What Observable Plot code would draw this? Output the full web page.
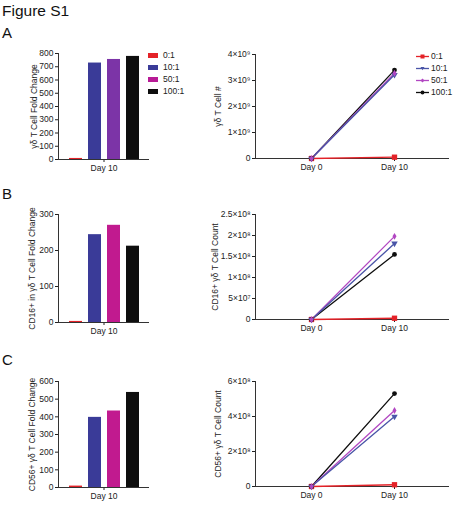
<!DOCTYPE html>
<html><head><meta charset="utf-8">
<script src="https://cdn.jsdelivr.net/npm/d3@7"></script>
<script src="https://cdn.jsdelivr.net/npm/@observablehq/plot@0.6"></script>
<style>
body{margin:0;background:#fff;font-family:"Liberation Sans",Arial,sans-serif;}
#fig{position:relative;width:474px;height:506px;overflow:hidden;background:#fff;}
.abs{position:absolute;}
.hdr{position:absolute;color:#111;line-height:1;}
.leg{position:absolute;font-size:8.5px;color:#222;display:flex;align-items:center;}
</style></head><body><div id="fig"></div>
<script>
// ---- data ----
const ratios = ["0:1", "10:1", "50:1", "100:1"];
const days = ["Day 0", "Day 10"];
const barDay = ["Day 10"];
const barA = [8, 728, 755, 778];
const barB = [3, 244, 270, 212];
const barC = [8, 397, 433, 538];
const lineA_day0 = [0, 0, 0, 0];
const lineA_day10 = [5e7, 3.22e9, 3.28e9, 3.4e9];
const lineB_day0 = [0, 0, 0, 0];
const lineB_day10 = [3e6, 1.81e8, 1.98e8, 1.55e8];
const lineC_day0 = [0, 0, 0, 0];
const lineC_day10 = [1e7, 4.0e8, 4.34e8, 5.31e8];
const titlesBar = ["γδ T Cell Fold Change", "CD16+ in γδ T Cell Fold Change", "CD56+ γδ T Cell Fold Change"];
const titlesLine = ["γδ T Cell #", "CD16+ γδ T Cell Count", "CD56+ γδ T Cell Count"];

const colorsBarA = ["#e42228", "#3a3b98", "#7c34a7", "#0e0e0e"];
const colorsBarBC = ["#e42228", "#3a3b98", "#c11a8f", "#0e0e0e"];
const colorsLegendBar = ["#e42228", "#3a3b98", "#b81b96", "#0e0e0e"];
const colorsLine = ["#e42228", "#4a55a8", "#b247c2", "#0e0e0e"];
const symbols = ["square", "triangle", "diamond", "circle"];
const symbolSizes = [3.0, 2.4, 2.1, 2.4];

const fig = document.getElementById("fig");
const font = "'Liberation Sans', Arial, sans-serif";
const sup = {"0":"⁰","1":"¹","2":"²","3":"³","4":"⁴","5":"⁵","6":"⁶","7":"⁷","8":"⁸","9":"⁹"};
function sci(v) {
  if (v === 0) return "0";
  const e = Math.floor(Math.log10(v) + 1e-9);
  const m = +(v / 10 ** e).toFixed(2);
  return m + "×10" + String(e).split("").map(c => sup[c]).join("");
}
function place(el, left, top) {
  el.classList.add("abs");
  el.style.left = left + "px";
  el.style.top = top + "px";
  fig.appendChild(el);
}
function hdr(text, left, top, size) {
  const d = document.createElement("div");
  d.className = "hdr";
  d.textContent = text;
  d.style.left = left + "px"; d.style.top = top + "px"; d.style.fontSize = size + "px";
  fig.appendChild(d);
}

const style = {fontFamily: font, fontSize: "8.5px", color: "#222", background: "transparent", overflow: "visible"};

function barPanel(vals, cols, yMax, step, label, frameTop, frameBottom, labelOffset) {
  const data = ratios.map((r, i) => ({day: barDay[0], ratio: r, value: vals[i]}));
  const mt = 10, mb = 22;
  const p = Plot.plot({
    width: 152, height: frameBottom - frameTop + mt + mb,
    marginLeft: 58, marginRight: 3, marginTop: mt, marginBottom: mb,
    style,
    fx: {domain: barDay, padding: 0, label: null},
    x: {domain: ratios, paddingInner: 0.33, paddingOuter: 0.52, axis: null},
    y: {domain: [0, yMax], ticks: d3.range(0, yMax + 1, step), tickSize: 3, tickPadding: 2,
        label, labelAnchor: "center", labelArrow: "none", labelOffset},
    color: {domain: ratios, range: cols},
    marks: [
      Plot.barY(data, {fx: "day", x: "ratio", y: "value", fill: "ratio"}),
      Plot.axisFx({anchor: "bottom", tickSize: 3, tickPadding: 2, label: null}),
      Plot.ruleY([0], {stroke: "#333", strokeWidth: 1}),
      Plot.frame({anchor: "left", stroke: "#333"})
    ]
  });
  place(p, 0, frameTop - mt);
}

function linePanel(v0, v10, yMax, step, label, frameTop, frameBottom, labelOffset) {
  const data = [];
  for (let i = ratios.length - 1; i >= 0; i--) {
    data.push({day: days[0], ratio: ratios[i], value: v0[i], size: symbolSizes[i]});
    data.push({day: days[1], ratio: ratios[i], value: v10[i], size: symbolSizes[i]});
  }
  const mt = 10, mb = 22;
  const p = Plot.plot({
    width: 279, height: frameBottom - frameTop + mt + mb,
    marginLeft: 60, marginRight: 25, marginTop: mt, marginBottom: mb,
    style,
    x: {domain: days, type: "point", padding: 0.66, tickSize: 3, tickPadding: 2, label: null},
    y: {domain: [0, yMax], ticks: d3.range(0, yMax + 1, step), tickFormat: sci, tickSize: 3, tickPadding: 2,
        label, labelAnchor: "center", labelArrow: "none", labelOffset},
    color: {domain: ratios, range: colorsLine},
    symbol: {domain: ratios, range: symbols},
    r: {type: "identity"},
    marks: [
      Plot.ruleY([0], {stroke: "#333", strokeWidth: 1}),
      Plot.frame({anchor: "left", stroke: "#333"}),
      Plot.line(data, {x: "day", y: "value", z: "ratio", stroke: "ratio", strokeWidth: 1.3}),
      Plot.dot(data, {x: "day", y: "value", fill: "ratio", stroke: "none", symbol: "ratio",
        r: "size", rotate: d => d.ratio === "10:1" ? 180 : 0})
    ]
  });
  place(p, 195, frameTop - mt);
}

// headers
hdr("Figure S1", 2, 3, 15.5);
hdr("A", 2, 25, 15);
hdr("B", 2, 186, 15);
hdr("C", 2, 352, 15);

barPanel(barA, colorsBarA, 800, 100, titlesBar[0], 53, 159, 28);
barPanel(barB, colorsBarBC, 300, 100, titlesBar[1], 214, 322, 30);
barPanel(barC, colorsBarBC, 600, 100, titlesBar[2], 381, 487, 30);

linePanel(lineA_day0, lineA_day10, 4e9, 1e9, titlesLine[0], 54, 158, 41);
linePanel(lineB_day0, lineB_day10, 2.5e8, 5e7, titlesLine[1], 214, 319, 44);
linePanel(lineC_day0, lineC_day10, 6e8, 2e8, titlesLine[2], 381, 486, 41);

// legends (panel A)
const ys = [55, 67, 79, 91];
ratios.forEach((r, i) => {
  const d = document.createElement("div");
  d.className = "leg";
  d.style.left = "148px"; d.style.top = (ys[i] - 5) + "px"; d.style.height = "10px";
  d.innerHTML = `<span style="display:inline-block;width:10px;height:5px;background:${colorsLegendBar[i]};margin-right:5px"></span>${r}`;
  fig.appendChild(d);
});
const ys2 = [56, 68, 80, 92];
ratios.forEach((r, i) => {
  const d = document.createElement("div");
  d.className = "leg";
  d.style.left = "416px"; d.style.top = (ys2[i] - 5) + "px"; d.style.height = "10px";
  const c = colorsLine[i];
  let shape;
  if (symbols[i] === "square") shape = `<rect x="4.5" y="2.5" width="4" height="4" fill="${c}"/>`;
  else if (symbols[i] === "triangle") shape = `<path d="M4.5,3 L8.5,3 L6.5,6.2 Z" fill="${c}"/>`;
  else if (symbols[i] === "diamond") shape = `<path d="M6.5,2.5 L8.5,4.5 L6.5,6.5 L4.5,4.5 Z" fill="${c}"/>`;
  else shape = `<circle cx="6.5" cy="4.5" r="1.9" fill="${c}"/>`;
  d.innerHTML = `<svg width="13" height="9" style="margin-right:2px"><line x1="0" x2="13" y1="4.5" y2="4.5" stroke="${c}" stroke-width="1.3"/>${shape}</svg>${r}`;
  fig.appendChild(d);
});
</script>
</body></html>
